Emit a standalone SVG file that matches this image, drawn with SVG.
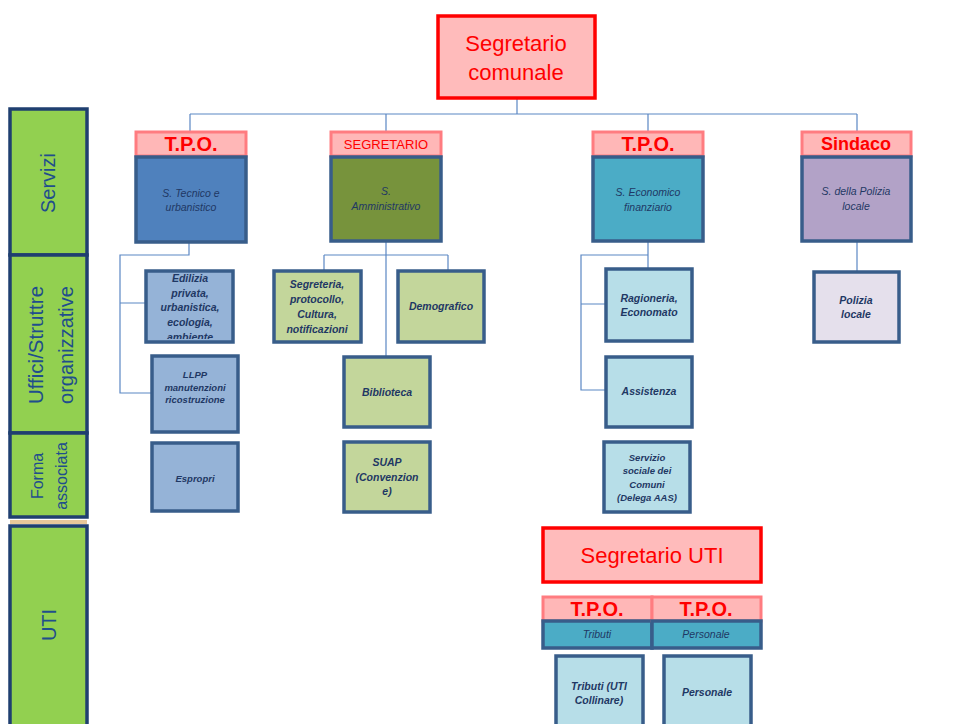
<svg xmlns="http://www.w3.org/2000/svg" width="977" height="724" viewBox="0 0 977 724">
<defs>
<style>
.side{fill:#92D050;stroke:#1F3F70;stroke-width:3.5}
.sidet{font-family:"Liberation Sans",Arial,sans-serif;fill:#1F4E8C;text-anchor:middle;dominant-baseline:central}
.boss{fill:#FFBBBB;stroke:#FF0000;stroke-width:3.5}
.bosst{font-family:"Liberation Sans",Arial,sans-serif;fill:#FF0000;text-anchor:middle;dominant-baseline:central}
.hdr{fill:#FFB7B7;stroke:#FF7C80;stroke-width:3}
.hdrt{font-family:"Liberation Sans",Arial,sans-serif;fill:#FF0000;text-anchor:middle;dominant-baseline:central}
.hb{font-weight:bold}
.bx{stroke:#385D8A;stroke-width:3.5}
.t{font-family:"Liberation Sans",Arial,sans-serif;font-style:italic;fill:#1F3864;text-anchor:middle;dominant-baseline:central;font-size:10.5px}
.tb{font-weight:bold;font-size:10.5px}
.sm{font-size:9.5px}
.c1{fill:#4F81BD}.c2{fill:#77933C}.c3{fill:#4BACC6}.c4{fill:#B2A2C7}
.l1{fill:#95B3D7}.l2{fill:#C3D69B}.l3{fill:#B7DEE8}.l4{fill:#E5E0EC}
.conn{fill:none;stroke:#5B87C4;stroke-width:1.2}
</style>
<clipPath id="clipEd"><rect x="146" y="271" width="87" height="68"/></clipPath>
</defs>
<rect width="977" height="724" fill="#FFFFFF"/>

<g id="sidebar">
<g id="side-servizi"><rect class="side" x="10" y="109" width="77" height="146"/>
<text class="sidet" font-size="20" transform="translate(48,183) rotate(-90)">Servizi</text></g>
<g id="side-uffici"><rect class="side" x="10" y="255" width="77" height="178"/>
<text class="sidet" font-size="20.5" transform="translate(35,345) rotate(-90)">Uffici/Struttre</text>
<text class="sidet" font-size="20" transform="translate(66,345) rotate(-90)">organizzative</text></g>
<g id="side-forma"><rect class="side" x="10" y="433" width="77" height="84"/>
<text class="sidet" font-size="16" transform="translate(37,476) rotate(-90)">Forma</text>
<text class="sidet" font-size="16" transform="translate(61,476) rotate(-90)">associata</text></g>
<rect x="10" y="520" width="77" height="4" fill="#E8C89A"/>
<g id="side-uti"><rect class="side" x="10" y="526" width="77" height="210"/>
<text class="sidet" font-size="20" transform="translate(49,625) rotate(-90)">UTI</text></g>
</g>

<g id="connectors">
<path class="conn" d="M517,99 V114 M190,114 H857 M190,114 V131 M386,114 V131 M648,114 V131 M857,114 V131"/>
<path class="conn" d="M189,243 V255 H120 V393 H151 M120,303 H146"/>
<path class="conn" d="M386,241 V356 M324,255 H448 M324,255 V271 M448,255 V271"/>
<path class="conn" d="M648,241 V268 M648,255 H581 V390 H605 M581,304 H605"/>
<path class="conn" d="M857,241 V271"/>
</g>

<g id="segretario-comunale">
<rect class="boss" x="438" y="16" width="157" height="82"/>
<text class="bosst" font-size="22" x="516" y="43">Segretario</text>
<text class="bosst" font-size="22" x="516" y="72">comunale</text>
</g>

<g id="tpo-tecnico">
<rect class="hdr" x="136" y="132" width="110" height="24"/>
<text class="hdrt hb" font-size="20" x="191" y="144">T.P.O.</text>
<rect class="bx c1" x="136" y="157" width="110" height="85"/>
<text class="t" x="191" y="193">S. Tecnico e</text>
<text class="t" x="191" y="207">urbanistico</text>
</g>
<g id="segretario-amm">
<rect class="hdr" x="331" y="132" width="110" height="24"/>
<text class="hdrt" font-size="13" x="386" y="144">SEGRETARIO</text>
<rect class="bx c2" x="331" y="157" width="110" height="84"/>
<text class="t" x="386" y="191">S.</text>
<text class="t" x="386" y="206">Amministrativo</text>
</g>
<g id="tpo-economico">
<rect class="hdr" x="593" y="132" width="110" height="24"/>
<text class="hdrt hb" font-size="20" x="648" y="144">T.P.O.</text>
<rect class="bx c3" x="593" y="157" width="110" height="84"/>
<text class="t" x="648" y="192">S. Economico</text>
<text class="t" x="648" y="207">finanziario</text>
</g>
<g id="sindaco-polizia">
<rect class="hdr" x="802" y="132" width="109" height="24"/>
<text class="hdrt hb" font-size="18" x="856" y="144">Sindaco</text>
<rect class="bx c4" x="802" y="157" width="109" height="84"/>
<text class="t" x="856" y="191">S. della Polizia</text>
<text class="t" x="856" y="206">locale</text>
</g>

<g id="edilizia">
<rect class="bx l1" x="146" y="271" width="87" height="71"/>
<g clip-path="url(#clipEd)">
<text class="t tb" x="190" y="278">Edilizia</text>
<text class="t tb" x="190" y="293">privata,</text>
<text class="t tb" x="190" y="307">urbanistica,</text>
<text class="t tb" x="190" y="322">ecologia,</text>
<text class="t tb" x="190" y="337">ambiente</text>
</g>
</g>
<g id="llpp">
<rect class="bx l1" x="152" y="356" width="86" height="76"/>
<text class="t tb sm" x="195" y="374">LLPP</text>
<text class="t tb sm" x="195" y="387">manutenzioni</text>
<text class="t tb sm" x="195" y="399">ricostruzione</text>
</g>
<g id="espropri">
<rect class="bx l1" x="152" y="443" width="86" height="68"/>
<text class="t tb sm" x="195" y="478">Espropri</text>
</g>

<g id="segreteria">
<rect class="bx l2" x="274" y="271" width="87" height="71"/>
<text class="t tb" x="317" y="284">Segreteria,</text>
<text class="t tb" x="317" y="299">protocollo,</text>
<text class="t tb" x="317" y="314">Cultura,</text>
<text class="t tb" x="317" y="329">notificazioni</text>
</g>
<g id="demografico">
<rect class="bx l2" x="398" y="271" width="86" height="71"/>
<text class="t tb" x="441" y="306">Demografico</text>
</g>
<g id="biblioteca">
<rect class="bx l2" x="344" y="357" width="86" height="70"/>
<text class="t tb" x="387" y="392">Biblioteca</text>
</g>
<g id="suap">
<rect class="bx l2" x="344" y="442" width="86" height="70"/>
<text class="t tb" x="387" y="462">SUAP</text>
<text class="t tb" x="387" y="477">(Convenzion</text>
<text class="t tb" x="387" y="491">e)</text>
</g>

<g id="ragioneria">
<rect class="bx l3" x="606" y="269" width="86" height="72"/>
<text class="t tb" x="649" y="298">Ragioneria,</text>
<text class="t tb" x="649" y="312">Economato</text>
</g>
<g id="assistenza">
<rect class="bx l3" x="606" y="357" width="86" height="70"/>
<text class="t tb" x="649" y="391">Assistenza</text>
</g>
<g id="servizio-sociale">
<rect class="bx l3" x="604" y="442" width="86" height="70"/>
<text class="t tb sm" x="647" y="457">Servizio</text>
<text class="t tb sm" x="647" y="470">sociale dei</text>
<text class="t tb sm" x="647" y="484">Comuni</text>
<text class="t tb sm" x="647" y="497">(Delega AAS)</text>
</g>

<g id="polizia-locale">
<rect class="bx l4" x="814" y="272" width="85" height="70"/>
<text class="t tb" x="856" y="300">Polizia</text>
<text class="t tb" x="856" y="314">locale</text>
</g>

<g id="segretario-uti">
<rect class="boss" x="543" y="528" width="218" height="54"/>
<text class="bosst" font-size="22" x="652" y="555">Segretario UTI</text>
</g>
<g id="tpo-tributi">
<rect class="hdr" x="543" y="597" width="109" height="24"/>
<text class="hdrt hb" font-size="20" x="597" y="609">T.P.O.</text>
<rect class="bx c3" x="543" y="621" width="109" height="27"/>
<text class="t" x="597" y="634">Tributi</text>
</g>
<g id="tpo-personale">
<rect class="hdr" x="652" y="597" width="109" height="24"/>
<text class="hdrt hb" font-size="20" x="706" y="609">T.P.O.</text>
<rect class="bx c3" x="652" y="621" width="109" height="27"/>
<text class="t" x="706" y="634">Personale</text>
</g>
<g id="tributi-uti">
<rect class="bx l3" x="556" y="656" width="87" height="80"/>
<text class="t tb" x="599" y="686">Tributi (UTI</text>
<text class="t tb" x="599" y="700">Collinare)</text>
</g>
<g id="personale">
<rect class="bx l3" x="664" y="656" width="87" height="80"/>
<text class="t tb" x="707" y="692">Personale</text>
</g>
</svg>
